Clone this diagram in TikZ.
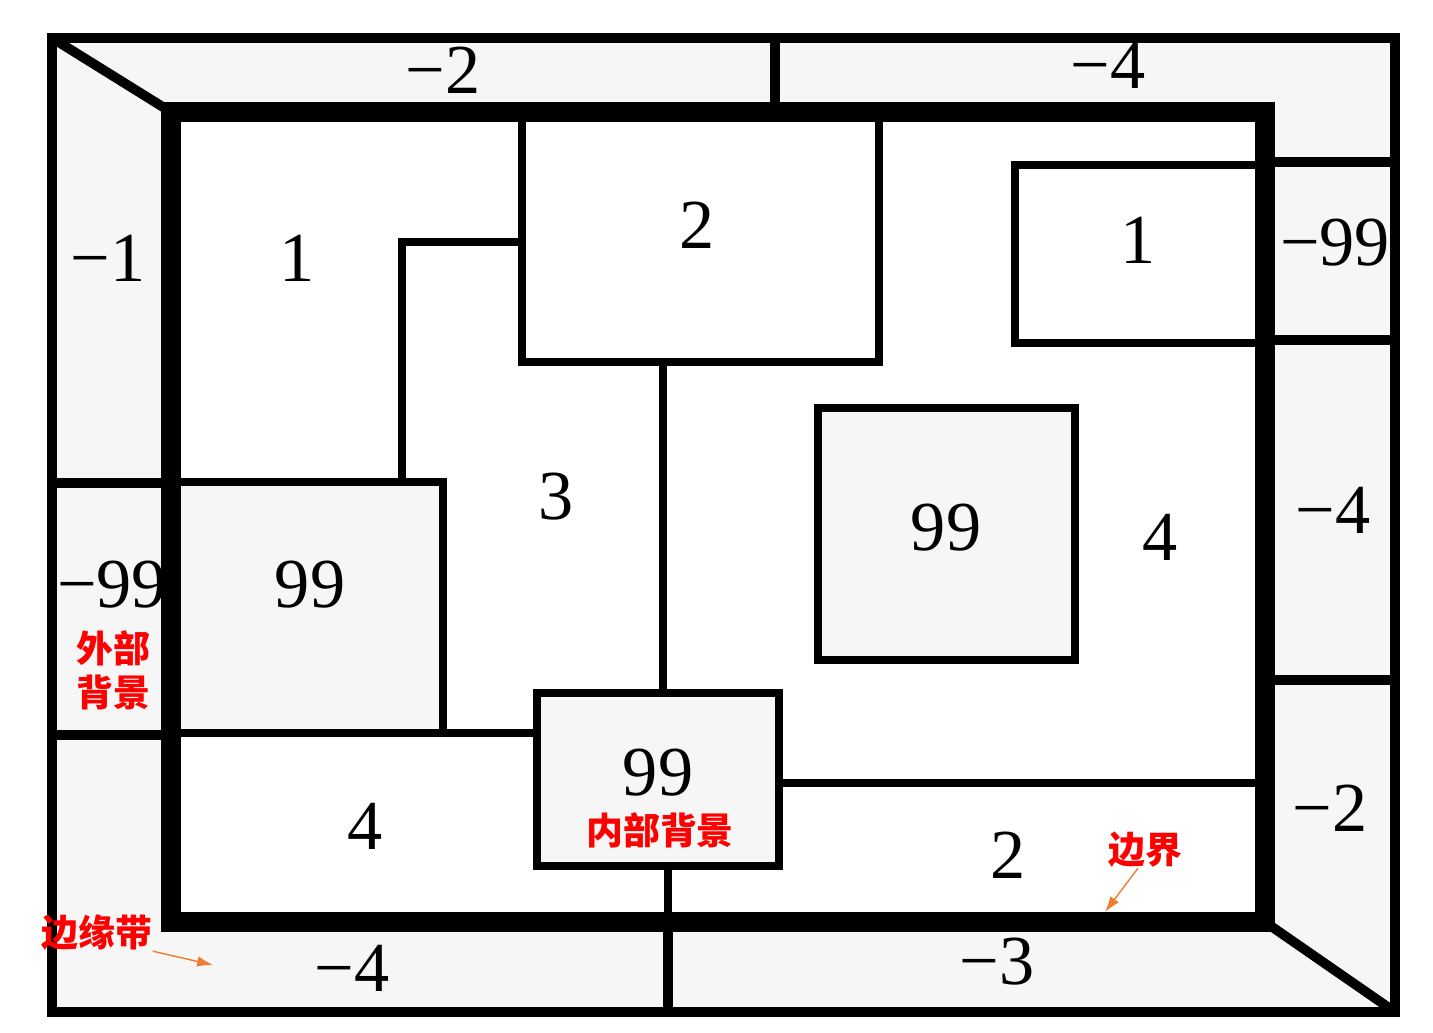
\documentclass[tikz,border=0pt]{standalone}
\usepackage{fontspec}
\setmainfont{Liberation Serif}
\newfontfamily\cjk{Noto Sans CJK SC}
\usetikzlibrary{arrows.meta,positioning}
\definecolor{pointcol}{HTML}{ED7D31}

\begin{document}
\begin{tikzpicture}[
    x=0.02cm, y=-0.02cm,
    frame/.style={draw, line width=5.5pt},
    border/.style={draw, line width=11pt},
    region/.style={draw, line width=4.5pt},
    bandfill/.style={fill=gray!7},
    num/.style={font=\fontsize{40}{44}\selectfont, inner sep=0pt},
    note/.style={font=\cjk\bfseries\fontsize{21}{25}\selectfont, text=red, inner sep=0pt, align=center},
    pointer/.style={-{Latex[length=9pt,width=6pt]}, draw=pointcol, line width=0.8pt}
]

\useasboundingbox (0,0) rectangle (1433,1032);

% Edge band and background boxes
\fill[bandfill, even odd rule] (52,38) rectangle (1395,1012) (171,112) rectangle (1265,922);
\fill[bandfill] (171,482) rectangle (443,733);
\fill[bandfill] (818,408) rectangle (1075,660);
\fill[bandfill] (537,693) rectangle (779,866);

% Band separators
\draw[frame] (775,38) -- (775,112);
\draw[frame] (1265,162) -- (1395,162);
\draw[frame] (1265,340) -- (1395,340);
\draw[frame] (1265,680) -- (1395,680);
\draw[frame] (52,483) -- (171,483);
\draw[frame] (52,735) -- (171,735);
\draw[frame] (668,922) -- (668,1012);

% Regions
\draw[region] (522,112) -- (522,362) -- (879,362) -- (879,112);
\draw[region] (522,242) -- (402,242) -- (402,482);
\draw[region] (171,482) -- (443,482) -- (443,733) -- (171,733);
\draw[region] (443,733) -- (537,733);
\draw[region] (663,362) -- (663,693);
\draw[region] (537,693) rectangle (779,866);
\draw[region] (668,866) -- (668,922);
\draw[region] (779,783) -- (1265,783);
\draw[region] (818,408) rectangle (1075,660);
\draw[region] (1265,165) -- (1015,165) -- (1015,343) -- (1265,343);

% Outer frame and boundary
\draw[frame] (52,38) rectangle (1395,1012);
\draw[frame] (52,38) -- (171,112);
\draw[frame] (1265,922) -- (1395,1012);
\draw[border] (171,112) rectangle (1265,922);

% Labels
\foreach \x/\y/\txt/\name in {
    443/70/{−2}/bandA, 1108/65/{−4}/bandB, 108/258/{−1}/bandC,
    1335/243/{−99}/bandD, 112/585/{−99}/bandE, 1333/510/{−4}/bandF,
    1330/808/{−2}/bandG, 352/968/{−4}/bandH, 997/962/{−3}/bandI,
    297/258/1/regA, 697/225/2/regB, 1138/240/1/regC,
    310/585/99/regD, 556/497/3/regE, 946/528/99/regF,
    1160/537/4/regG, 658/773/99/regH, 365/826/4/regI, 1008/855/2/regJ} {
    \node[num] (\name) at (\x,\y) {\txt};
}

% Notes
\node[note] (outerbg) at (113,670) {外部\\背景};
\node[note] (innerbg) at (660,830) {内部背景};
\node[note] (edge) at (97,933) {边缘带};
\node[note] (bound) at (1145,850) {边界};
\coordinate (edgetip) at (213,965);
\coordinate (boundtip) at (1105,912);
\draw[pointer] (edge.south east) -- (edgetip);
\draw[pointer] ([xshift=-4pt]bound.south) -- (boundtip);

\end{tikzpicture}
\end{document}
